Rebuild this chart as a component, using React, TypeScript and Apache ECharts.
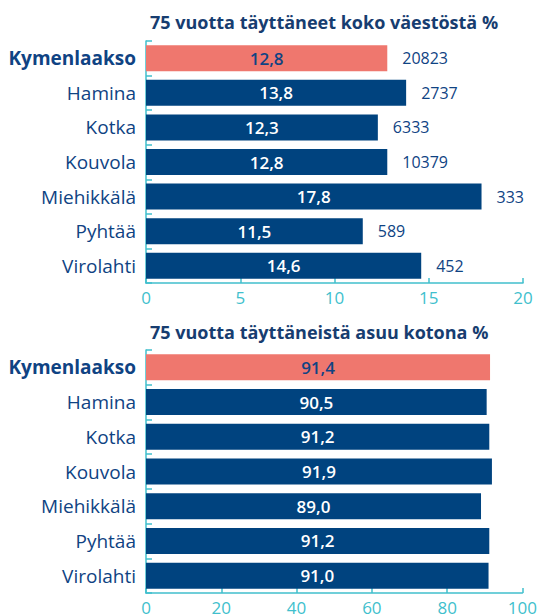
import React, { useEffect, useRef } from "react";
import * as echarts from "echarts";

const categories = ["Kymenlaakso", "Hamina", "Kotka", "Kouvola", "Miehikkälä", "Pyhtää", "Virolahti"];
const shareValues = [12.8, 13.8, 12.3, 12.8, 17.8, 11.5, 14.6];
const counts = [20823, 2737, 6333, 10379, 333, 589, 452];
const homeValues = [91.4, 90.5, 91.2, 91.9, 89.0, 91.2, 91.0];
const title1 = "75 vuotta täyttäneet koko väestöstä %";
const title2 = "75 vuotta täyttäneistä asuu kotona %";

const NAVY = "#00437f";
const SALMON = "#ef776e";
const TEAL = "#41bfcd";
const TEXT = "#0f4383";
const FONT = "'Open Sans', 'Noto Sans', sans-serif";

const fmt = (v: number) => v.toFixed(1).replace(".", ",");

export default function App() {
  const ref = useRef<HTMLDivElement>(null);
  useEffect(() => {
    if (!ref.current) return;
    const chart = echarts.init(ref.current, null, { renderer: "svg" });
    const barData = (vals: number[]) =>
      vals.map((v, i) => ({
        value: v,
        itemStyle: { color: i === 0 ? SALMON : NAVY },
        label: { color: i === 0 ? TEXT : "#ffffff" },
      }));
    const yAxisCommon = (gridIndex: number) => ({
      type: "category" as const,
      gridIndex,
      data: categories,
      inverse: true,
      axisLine: { show: true, lineStyle: { color: TEAL, width: 1.5 } },
      axisTick: { show: true, inside: true, length: 6, lineStyle: { color: TEAL, width: 1.5 } },
      axisLabel: {
        margin: 10,
        fontFamily: FONT,
        fontSize: 19,
        color: TEXT,
        formatter: (v: string) => (v === categories[0] ? "{b|" + v + "}" : v),
        rich: { b: { fontFamily: FONT, fontSize: 19, fontWeight: "bold", color: TEXT } },
      },
    });
    const xAxisCommon = (gridIndex: number, max: number, interval: number) => ({
      type: "value" as const,
      gridIndex,
      min: 0,
      max,
      interval,
      splitLine: { show: false },
      axisLine: { show: true, lineStyle: { color: TEAL, width: 1.5 } },
      axisTick: { show: true, inside: true, length: 5, lineStyle: { color: TEAL, width: 1.5 } },
      axisLabel: { margin: 6, fontFamily: FONT, fontSize: 17, color: TEAL },
    });
    const inLabel = {
      show: true,
      position: "inside",
      fontFamily: FONT,
      fontSize: 17,
      fontWeight: 600,
      formatter: (p: any) => fmt(p.value),
    };
    chart.setOption({
      animation: false,
      title: [
        { text: title1, left: 145, top: 8, textStyle: { fontFamily: FONT, fontSize: 18, fontWeight: "bold", color: "#173d70" } },
        { text: title2, left: 145, top: 318, textStyle: { fontFamily: FONT, fontSize: 18, fontWeight: "bold", color: "#173d70" } },
      ],
      grid: [
        { left: 146, right: 17, top: 41, height: 242 },
        { left: 146, right: 17, top: 350, height: 243 },
      ],
      xAxis: [xAxisCommon(0, 20, 5), xAxisCommon(1, 100, 20)],
      yAxis: [yAxisCommon(0), yAxisCommon(1)],
      series: [
        {
          type: "bar",
          xAxisIndex: 0,
          yAxisIndex: 0,
          barWidth: 26,
          data: barData(shareValues),
          label: inLabel,
        },
        {
          type: "bar",
          xAxisIndex: 0,
          yAxisIndex: 0,
          barWidth: 26,
          barGap: "-100%",
          itemStyle: { color: "transparent" },
          data: shareValues,
          label: {
            show: true,
            position: "right",
            distance: 15,
            fontFamily: FONT,
            fontSize: 16,
            color: TEXT,
            formatter: (p: any) => String(counts[p.dataIndex]),
          },
        },
        {
          type: "bar",
          xAxisIndex: 1,
          yAxisIndex: 1,
          barWidth: 26,
          data: barData(homeValues),
          label: inLabel,
        },
      ],
    });
    return () => chart.dispose();
  }, []);
  return <div ref={ref} style={{ position: "absolute", left: 0, top: 0, width: 540, height: 616, background: "#fff" }} />;
}
